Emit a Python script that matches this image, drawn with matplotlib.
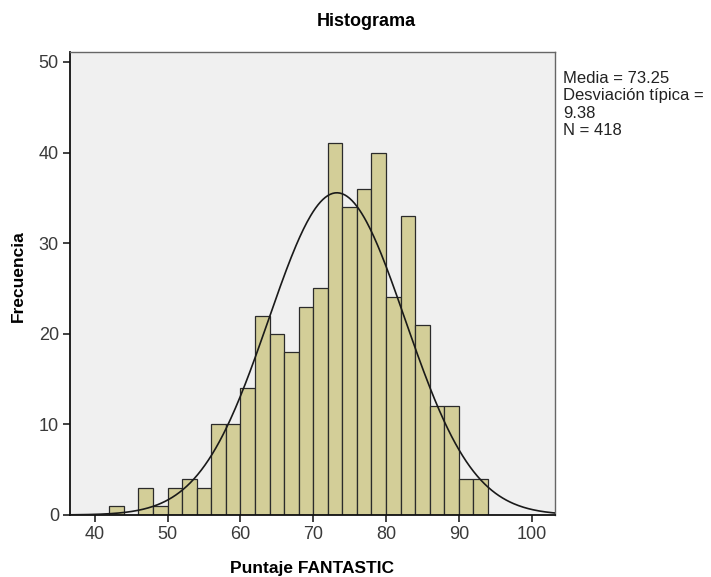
import numpy as np
import matplotlib
matplotlib.use("Agg")
import matplotlib.pyplot as plt

plt.rcParams['font.family'] = ['Liberation Sans', 'DejaVu Sans']

bin_edges = [42, 44, 46, 48, 50, 52, 54, 56, 58, 60, 62, 64, 66, 68, 70, 72, 74,
             76, 78, 80, 82, 84, 86, 88, 90, 92, 94]
counts = [1, 0, 3, 1, 3, 4, 3, 10, 10, 14, 22, 20, 18, 23, 25, 41, 34, 36, 40,
          24, 33, 21, 12, 12, 4, 4]
mean = 73.25
sd = 9.38
n = 418
x_ticks = [40, 50, 60, 70, 80, 90, 100]
y_ticks = [0, 10, 20, 30, 40, 50]

W, H = 711, 577
fig = plt.figure(figsize=(W / 100, H / 100), dpi=100)
ax = fig.add_axes([0.0985, 0.1075, 0.682, 0.8025])
ax.set_facecolor('#F0F0F0')

lefts = bin_edges[:-1]
widths = np.diff(bin_edges)
ax.bar(lefts, counts, width=widths, align='edge', color='#D3CE98',
       edgecolor='#2b2b2b', linewidth=0.9, zorder=2)

xs = np.linspace(36.6, 103.2, 400)
bw = widths[0]
ys = n * bw * np.exp(-0.5 * ((xs - mean) / sd) ** 2) / (sd * np.sqrt(2 * np.pi))
ax.plot(xs, ys, color='#1a1a1a', linewidth=1.2, zorder=3)

ax.set_xlim(36.6, 103.2)
ax.set_ylim(0, 51.1)
ax.set_xticks(x_ticks)
ax.set_yticks(y_ticks)
ax.tick_params(axis='both', direction='out', length=5, width=1.2, color='#222222',
               labelsize=13, labelcolor='#3a3a3a', pad=3)
for side in ['left', 'bottom']:
    ax.spines[side].set_linewidth(1.3)
    ax.spines[side].set_color('#111111')
for side in ['top', 'right']:
    ax.spines[side].set_linewidth(1.0)
    ax.spines[side].set_color('#666666')

fig.text(366 / W, 1 - 21 / H, 'Histograma', fontsize=13, fontweight='bold',
         ha='center', va='center')
fig.text(312 / W, 1 - 568 / H, 'Puntaje FANTASTIC', fontsize=12.5,
         fontweight='bold', ha='center', va='center')
fig.text(18 / W, 1 - 276 / H, 'Frecuencia', fontsize=12.5, fontweight='bold',
         ha='center', va='center', rotation=90)

fig.text(563 / W, 1 - 71 / H,
         'Media = 73.25\nDesviación típica =\n9.38\nN = 418',
         fontsize=12, color='#222222', va='top', ha='left', linespacing=1.2)

fig.savefig('out.png', dpi=100, facecolor='white')
